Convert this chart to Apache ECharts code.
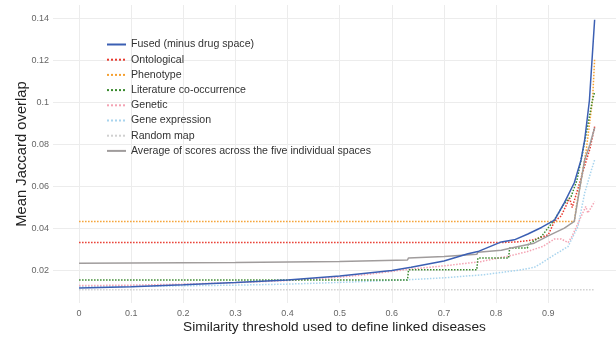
<!DOCTYPE html>
<html>
<head>
<meta charset="utf-8">
<script src="https://cdn.jsdelivr.net/npm/echarts@6/dist/echarts.min.js"></script>
<style>
html,body{margin:0;padding:0;background:#fff;}
#chart{width:616px;height:339px;}
</style>
</head>
<body>
<div id="chart"></div>
<script>
// Series names (legend order)
const seriesNames = [
  'Fused (minus drug space)',
  'Ontological',
  'Phenotype',
  'Literature co-occurrence',
  'Genetic',
  'Gene expression',
  'Random map',
  'Average of scores across the five individual spaces'
];

// [threshold, mean Jaccard overlap]
const fused = [[0,0.0116],[0.1,0.0122],[0.2,0.0132],[0.3,0.0143],[0.4,0.0155],[0.5,0.0174],[0.6,0.0200],[0.637,0.0215],[0.7,0.0245],[0.746,0.0280],[0.765,0.0290],[0.81,0.0336],[0.835,0.0346],[0.861,0.0374],[0.887,0.0405],[0.912,0.0440],[0.931,0.0523],[0.95,0.0618],[0.963,0.0728],[0.97,0.0823],[0.979,0.1010],[0.989,0.1395]];
const ontological = [[0,0.0333],[0.81,0.0333],[0.84,0.0336],[0.873,0.0346],[0.9,0.0370],[0.912,0.0434],[0.925,0.0460],[0.941,0.0545],[0.946,0.0500],[0.96,0.0615],[0.97,0.0700],[0.98,0.0780],[0.989,0.0885]];
const phenotype = [[0,0.0433],[0.95,0.0433],[0.954,0.0505],[0.963,0.0630],[0.973,0.0776],[0.985,0.1013],[0.989,0.1205]];
const literature = [[0,0.0155],[0.63,0.0155],[0.632,0.0203],[0.763,0.0203],[0.765,0.0259],[0.824,0.0259],[0.826,0.0307],[0.86,0.0307],[0.862,0.0325],[0.887,0.0362],[0.912,0.0442],[0.931,0.0520],[0.944,0.0553],[0.955,0.0630],[0.965,0.0750],[0.975,0.0880],[0.985,0.1013],[0.989,0.1050]];
const genetic = [[0,0.0128],[0.1,0.0130],[0.2,0.0135],[0.3,0.0142],[0.4,0.0152],[0.5,0.0168],[0.55,0.0180],[0.63,0.0205],[0.7,0.0222],[0.77,0.0242],[0.83,0.0272],[0.86,0.0290],[0.89,0.0315],[0.912,0.0350],[0.925,0.0350],[0.938,0.0333],[0.945,0.0360],[0.96,0.0440],[0.972,0.0505],[0.976,0.0474],[0.989,0.0528]];
const geneExpression = [[0,0.0122],[0.1,0.0124],[0.2,0.0127],[0.3,0.0130],[0.4,0.0135],[0.5,0.0143],[0.6,0.0153],[0.64,0.0157],[0.7,0.0165],[0.777,0.0180],[0.848,0.0203],[0.873,0.0215],[0.887,0.0235],[0.912,0.0275],[0.938,0.0314],[0.957,0.0410],[0.97,0.0570],[0.983,0.0680],[0.989,0.0727]];
const randomMap = [[0,0.0108],[0.5,0.0108],[0.989,0.0108]];
const average = [[0,0.0235],[0.3,0.0238],[0.5,0.0243],[0.63,0.0250],[0.632,0.0260],[0.7,0.0267],[0.763,0.0277],[0.765,0.0287],[0.81,0.0296],[0.829,0.0307],[0.873,0.0330],[0.9,0.0365],[0.931,0.0402],[0.95,0.0434],[0.96,0.0585],[0.97,0.0728],[0.98,0.0800],[0.989,0.0880]];

const xTicks = [0,0.1,0.2,0.3,0.4,0.5,0.6,0.7,0.8,0.9];
const yTicks = [0.02,0.04,0.06,0.08,0.1,0.12,0.14];

const seriesData = [fused, ontological, phenotype, literature, genetic, geneExpression, randomMap, average];
const colors = ['#3b5fb3','#e8392e','#f5a030','#3a8a2e','#f4a3b3','#a8d4ee','#d0d0d0','#a09c9c'];
const types = ['solid','dotted','dotted','dotted','dotted','dotted','dotted','solid'];
const zs = [10,5,5,5,4,3,2,6];

const chart = echarts.init(document.getElementById('chart'), null, {renderer:'canvas'});
const font = 'Liberation Sans, Arial, sans-serif';
chart.setOption({
  animation: false,
  backgroundColor: '#fff',
  grid: {left: 53, right: 0, top: 5, bottom: 35},
  legend: {
    data: seriesNames,
    orient: 'vertical',
    left: 101, top: 34,
    itemWidth: 19, itemHeight: 10, itemGap: 4.2,
    itemStyle: {opacity: 0},
    textStyle: {fontFamily: font, fontSize: 10.6, color: '#333'}
  },
  xAxis: {
    type: 'value', min: -0.05, max: 1.03,
    name: 'Similarity threshold used to define linked diseases',
    nameLocation: 'middle', nameGap: 17, nameMoveOverlap: false,
    nameTextStyle: {fontFamily: font, fontSize: 13.7, color: '#222'},
    axisLine: {show: false},
    axisTick: {show: false, customValues: xTicks},
    axisLabel: {customValues: xTicks, margin: 6, fontFamily: font, fontSize: 9, color: '#666',
      formatter: v => String(v)},
    splitLine: {show: true, lineStyle: {color: '#ececec', width: 1}}
  },
  yAxis: {
    type: 'value', min: 0.0045, max: 0.1465,
    name: 'Mean Jaccard overlap',
    nameLocation: 'middle', nameGap: 24, nameMoveOverlap: false,
    nameTextStyle: {fontFamily: font, fontSize: 14.8, color: '#222'},
    axisLine: {show: false},
    axisTick: {show: false, customValues: yTicks},
    axisLabel: {customValues: yTicks, margin: 4, fontFamily: font, fontSize: 9, color: '#666',
      formatter: v => String(v)},
    splitLine: {show: true, lineStyle: {color: '#ececec', width: 1}}
  },
  series: seriesNames.map((n, i) => ({
    name: n, type: 'line', data: seriesData[i], symbol: 'none', z: zs[i],
    color: colors[i],
    lineStyle: {color: colors[i], width: 1.5, type: types[i]}
  }))
});
</script>
</body>
</html>
